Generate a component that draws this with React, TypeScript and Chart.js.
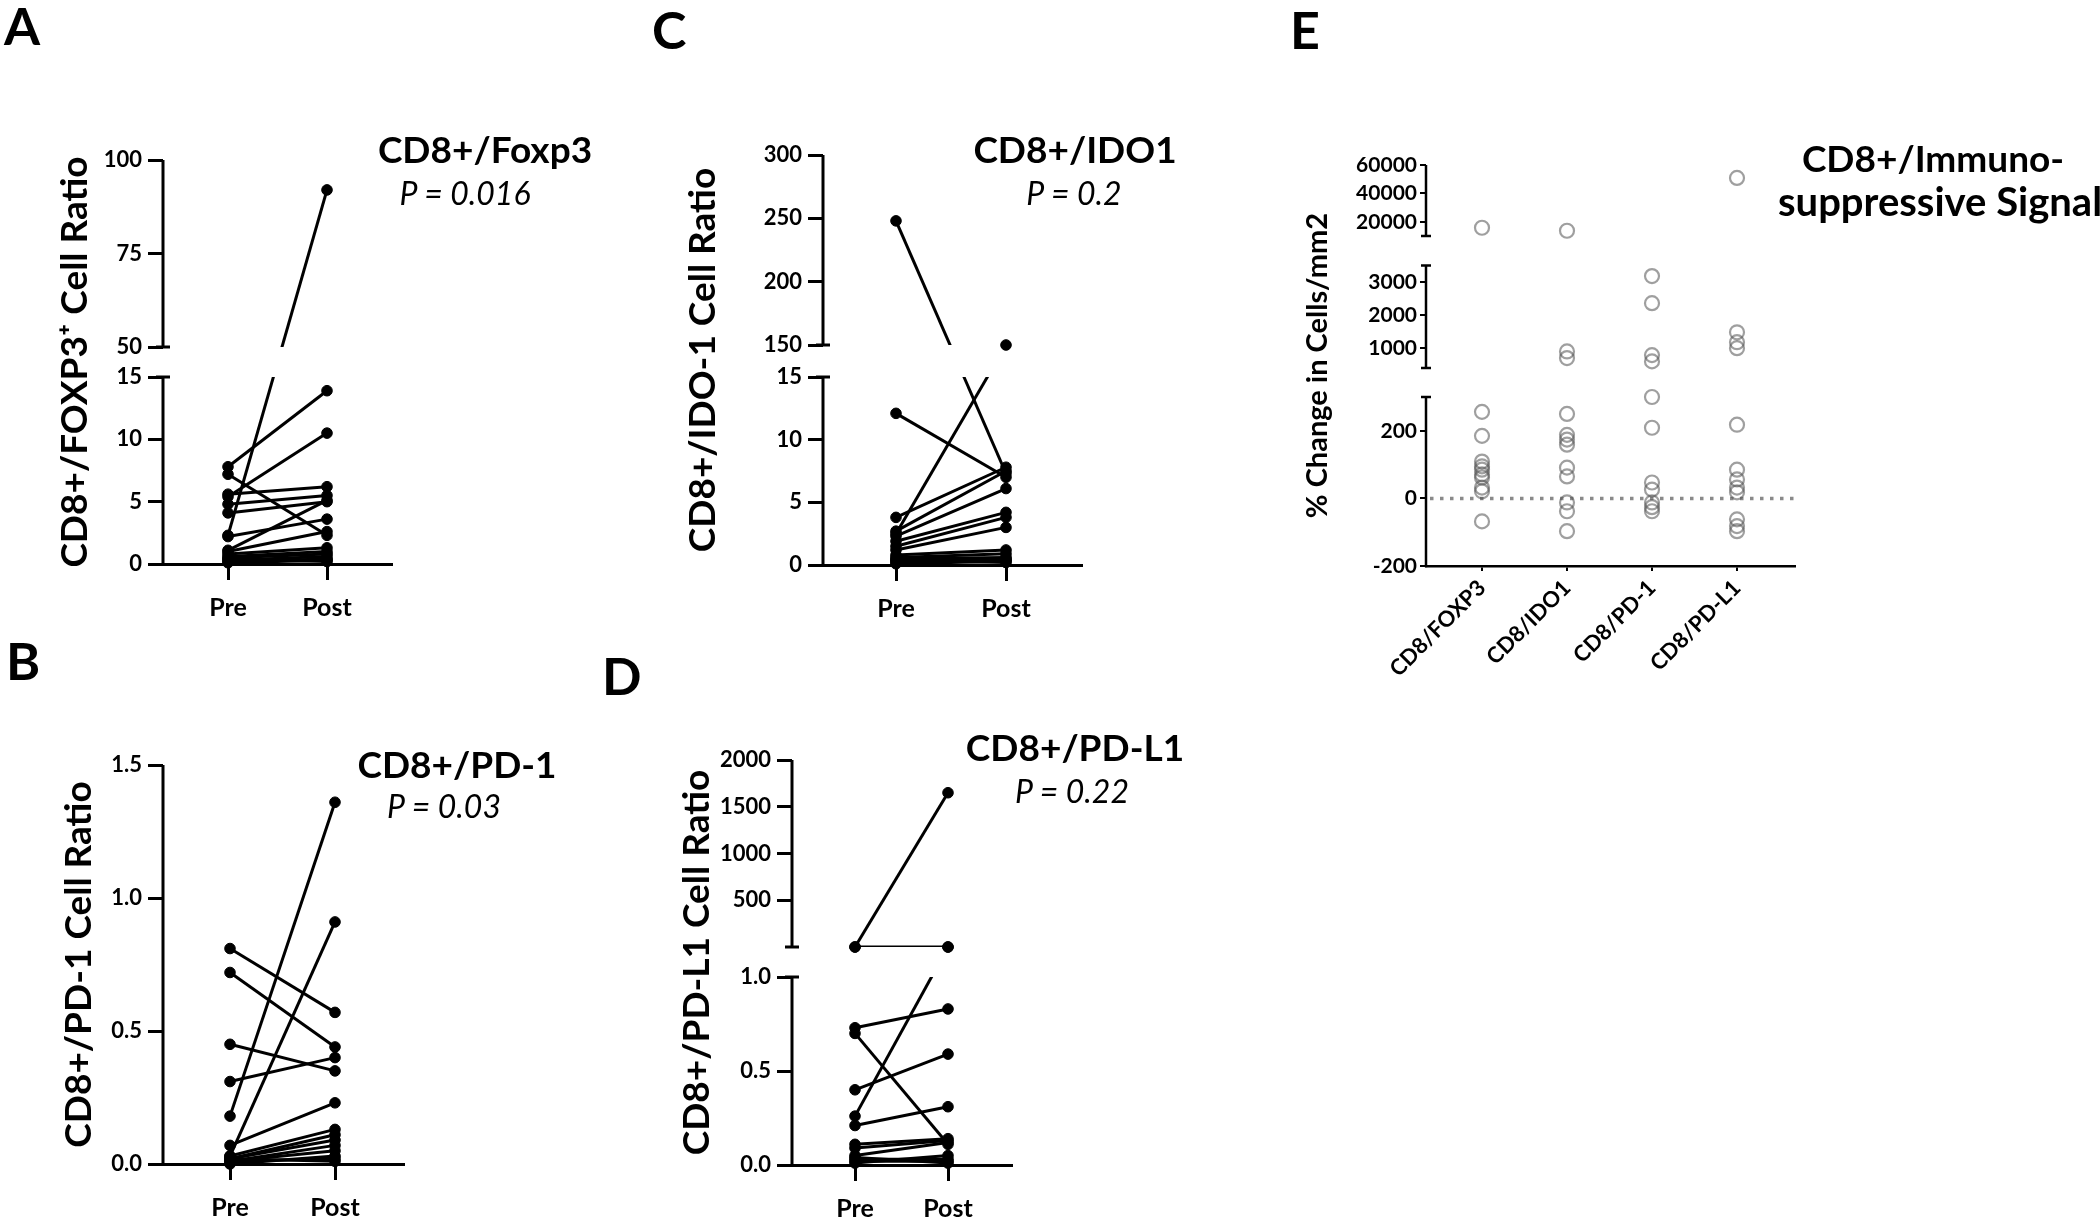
import React, { useEffect, useRef } from 'react';
import { Chart, registerables, LinearScale } from 'chart.js';

Chart.register(...registerables);

const W = 2100;
const H = 1217;
const CH = H + 100; // canvas height (bottom part is hidden by the page frame)
const FONT = 'Lato, "Open Sans", "DejaVu Sans", sans-serif';
const Y_TITLE_SIZE = 37;

// ---------------- data ----------------
const timeLabels = ['Pre', 'Post'];

// A: CD8+/FOXP3+
const foxp3Pre = [2.3, 7.8, 7.2, 5.4, 5.6, 4.8, 4.1, 2.2, 1.1, 1.0, 0.8, 0.6, 0.5, 0.3, 0.2, 0.4, 0.1];
const foxp3Post = [92, 13.9, 2.3, 10.5, 6.2, 5.5, 5.0, 3.6, 5.1, 2.6, 1.3, 1.0, 0.8, 0.6, 0.4, 0.2, 0.3];
const foxp3Ticks = [0, 5, 10, 15, 50, 75, 100];

// B: CD8+/PD-1
const pd1Pre = [0.81, 0.72, 0.45, 0.31, 0.18, 0.07, 0.03, 0.03, 0.02, 0.02, 0.01, 0.01, 0.0, 0.01, 0.02];
const pd1Post = [0.57, 0.44, 0.35, 0.4, 1.36, 0.23, 0.91, 0.13, 0.11, 0.09, 0.07, 0.05, 0.03, 0.02, 0.01];
const pd1Ticks = [0, 0.5, 1, 1.5];

// C: CD8+/IDO1
const ido1Pre = [248, 12.1, 2.5, 3.8, 2.7, 2.3, 1.9, 1.5, 1.2, 0.8, 0.6, 0.5, 0.3, 0.2, 0.4, 0.1];
const ido1Post = [7.3, 7.0, 150, 7.8, 7.5, 6.1, 4.2, 3.8, 3.0, 1.2, 0.9, 0.6, 0.5, 0.4, 0.2, 0.3];
const ido1Ticks = [0, 5, 10, 15, 150, 200, 250, 300];

// D: CD8+/PD-L1
const pdl1Pre = [1.3, 1.2, 0.26, 0.73, 0.7, 0.4, 0.21, 0.11, 0.09, 0.05, 0.03, 0.02, 0.04, 0.01];
const pdl1Post = [1650, 1.1, 1.05, 0.83, 0.11, 0.59, 0.31, 0.14, 0.13, 0.12, 0.03, 0.02, 0.01, 0.05];
const pdl1Ticks = [0, 0.5, 1, 500, 1000, 1500, 2000];

// E: % change
const changeCategories = ['CD8/FOXP3', 'CD8/IDO1', 'CD8/PD-1', 'CD8/PD-L1'];
const changeFoxp3 = [15800, 256, 185, 109, 95, 85, 71, 62, 32, 21, -68];
const changeIdo1 = [13700, 900, 700, 250, 188, 174, 159, 91, 65, -12, -38, -97];
const changePd1 = [3180, 2360, 790, 600, 300, 209, 47, 26, -12, -26, -38];
const changePdl1 = [50900, 1480, 1180, 1000, 218, 85, 56, 32, 18, -62, -82, -97];
const changeTicks = [-200, 0, 200, 1000, 2000, 3000, 20000, 40000, 60000];

// ---------------- broken axis scale ----------------
type Seg = { min: number; max: number; from: number; to: number };
type Meta = { segs: Seg[]; axisWidth: number; capHalf: number; zeroLine?: boolean };
const metaMap = new WeakMap<HTMLCanvasElement, Meta>();

function toDecimal(segs: Seg[], v: number): number {
  for (let i = 0; i < segs.length; i++) {
    const g = segs[i];
    const last = i === segs.length - 1;
    if (v <= g.max || last) {
      if (i > 0 && v < g.min) {
        const p = segs[i - 1];
        const t = (v - p.max) / (g.min - p.max);
        return p.to + t * (g.from - p.to);
      }
      return g.from + ((v - g.min) / (g.max - g.min)) * (g.to - g.from);
    }
  }
  return 0;
}

function fromDecimal(segs: Seg[], d: number): number {
  for (let i = 0; i < segs.length; i++) {
    const g = segs[i];
    const last = i === segs.length - 1;
    if (d <= g.to || last) {
      if (i > 0 && d < g.from) {
        const p = segs[i - 1];
        const t = (d - p.to) / (g.from - p.to);
        return p.max + t * (g.min - p.max);
      }
      return g.min + ((d - g.from) / (g.to - g.from)) * (g.max - g.min);
    }
  }
  return 0;
}

class BrokenScale extends LinearScale {
  static id = 'broken';
  static defaults = LinearScale.defaults;

  segList(): Seg[] {
    const m = metaMap.get((this as any).chart.canvas);
    if (m && m.segs.length) return m.segs;
    return [{ min: (this as any).min, max: (this as any).max, from: 0, to: 1 }];
  }

  getPixelForValue(value: any) {
    if (value === null || value === undefined || !Number.isFinite(+value)) return NaN;
    return (this as any).getPixelForDecimal(toDecimal(this.segList(), +value));
  }

  getValueForPixel(pixel: number) {
    return fromDecimal(this.segList(), (this as any).getDecimalForPixel(pixel));
  }
}
Chart.register(BrokenScale as any);

const brokenAxisPlugin = {
  id: 'brokenAxis',
  beforeDatasetsDraw(chart: any) {
    const m = metaMap.get(chart.canvas);
    if (!m) return;
    const y = chart.scales.y;
    const { ctx, chartArea: a } = chart;
    ctx.save();
    if (m.zeroLine) {
      const y0 = y.getPixelForValue(0);
      ctx.strokeStyle = '#8a8a8a';
      ctx.lineWidth = 3.5;
      ctx.setLineDash([3.5, 6.5]);
      ctx.beginPath();
      ctx.moveTo(a.left + 4, y0);
      ctx.lineTo(a.right, y0);
      ctx.stroke();
      ctx.setLineDash([]);
    }
    ctx.strokeStyle = '#000';
    ctx.lineWidth = m.axisWidth;
    ctx.lineCap = 'butt';
    const x = a.left;
    const n = m.segs.length;
    m.segs.forEach((g, i) => {
      const yb = y.getPixelForDecimal(g.from);
      const yt = y.getPixelForDecimal(g.to);
      ctx.beginPath();
      ctx.moveTo(x, i === 0 ? yb + m.axisWidth / 2 : yb);
      ctx.lineTo(x, yt);
      ctx.stroke();
      const cap = (py: number) => {
        ctx.beginPath();
        ctx.moveTo(x - m.capHalf, py);
        ctx.lineTo(x + m.capHalf, py);
        ctx.stroke();
      };
      if (i > 0) cap(yb);
      if (i < n - 1) cap(yt);
    });
    ctx.restore();
  },
  beforeDatasetDraw(chart: any, args: any) {
    const m = metaMap.get(chart.canvas);
    if (!m || chart.data.datasets[args.index].label !== 'lines') return;
    const y = chart.scales.y;
    const ctx = chart.ctx;
    ctx.save();
    ctx.beginPath();
    const n = m.segs.length;
    m.segs.forEach((g, i) => {
      const top = i === n - 1 ? 0 : y.getPixelForDecimal(g.to);
      const bottom = i === 0 ? chart.height : y.getPixelForDecimal(g.from);
      ctx.rect(0, top, chart.width, bottom - top);
    });
    ctx.clip();
  },
  afterDatasetDraw(chart: any, args: any) {
    const m = metaMap.get(chart.canvas);
    if (!m || chart.data.datasets[args.index].label !== 'lines') return;
    chart.ctx.restore();
  },
};

// ---------------- panel specs ----------------
type Area = { left: number; top: number; right: number; bottom: number };
type PairSpec = {
  pre: number[];
  post: number[];
  ticks: number[];
  fmt: (v: number) => string;
  yTitle: string;
  titleX: number;
  area: Area;
  preX: number;
  postX: number;
  segs: Seg[];
};

const panelA: PairSpec = {
  pre: foxp3Pre, post: foxp3Post, ticks: foxp3Ticks, fmt: (v) => String(v),
  yTitle: 'CD8+/FOXP3\u207A Cell Ratio', titleX: 75,
  area: { left: 163, top: 160, right: 391, bottom: 564 }, preX: 228, postX: 327,
  segs: [{ min: 0, max: 15, from: 0, to: 187 }, { min: 50, max: 100, from: 217, to: 404 }],
};
const panelB: PairSpec = {
  pre: pd1Pre, post: pd1Post, ticks: pd1Ticks, fmt: (v) => v.toFixed(1),
  yTitle: 'CD8+/PD-1 Cell Ratio', titleX: 79,
  area: { left: 163, top: 765, right: 403, bottom: 1164 }, preX: 230, postX: 335,
  segs: [{ min: 0, max: 1.5, from: 0, to: 399 }],
};
const panelC: PairSpec = {
  pre: ido1Pre, post: ido1Post, ticks: ido1Ticks, fmt: (v) => String(v),
  yTitle: 'CD8+/IDO-1 Cell Ratio', titleX: 703,
  area: { left: 823, top: 155, right: 1081, bottom: 565 }, preX: 896, postX: 1006,
  segs: [{ min: 0, max: 15, from: 0, to: 188 }, { min: 150, max: 300, from: 220, to: 410 }],
};
const panelD: PairSpec = {
  pre: pdl1Pre, post: pdl1Post, ticks: pdl1Ticks, fmt: (v) => (v <= 1 ? v.toFixed(1) : String(v)),
  yTitle: 'CD8+/PD-L1 Cell Ratio', titleX: 697,
  area: { left: 792, top: 760, right: 1011, bottom: 1165 }, preX: 855, postX: 948,
  segs: [{ min: 0, max: 1, from: 0, to: 188 }, { min: 1, max: 2000, from: 218, to: 405 }],
};

const X_BOX = 80;

function buildPaired(canvas: HTMLCanvasElement, s: PairSpec): any {
  const h = s.area.bottom - s.area.top;
  metaMap.set(canvas, {
    segs: s.segs.map((g) => ({ ...g, from: g.from / h, to: g.to / h })),
    axisWidth: 3,
    capHalf: 7,
  });
  const span = s.postX - s.preX;
  const padLeft = s.titleX - (Y_TITLE_SIZE * 1.2) / 2;
  const datasets: any[] = [
    {
      label: 'points',
      data: [...s.pre.map((v) => ({ x: 0, y: v })), ...s.post.map((v) => ({ x: 1, y: v }))],
      pointRadius: 5.3,
      pointBackgroundColor: '#000',
      pointBorderColor: '#000',
      pointBorderWidth: 1,
      clip: false,
    },
    ...s.pre.map((v, i) => ({
      label: 'lines',
      data: [{ x: 0, y: v }, { x: 1, y: s.post[i] }],
      showLine: true,
      borderColor: '#000',
      borderWidth: 3,
      pointRadius: 0,
      clip: false,
    })),
  ];
  return {
    type: 'scatter',
    data: { datasets },
    options: {
      responsive: false,
      animation: false,
      events: [],
      plugins: { legend: { display: false }, tooltip: { enabled: false } },
      layout: {
        autoPadding: false,
        padding: { left: padLeft, top: s.area.top, right: W - s.area.right, bottom: CH - s.area.bottom - X_BOX },
      },
      scales: {
        x: {
          type: 'linear',
          min: -(s.preX - s.area.left) / span,
          max: 1 + (s.area.right - s.postX) / span,
          afterBuildTicks: (sc: any) => { sc.ticks = [{ value: 0 }, { value: 1 }]; },
          afterFit: (sc: any) => { sc.height = X_BOX; },
          ticks: {
            callback: (_v: any, i: number) => timeLabels[i],
            font: { family: FONT, size: 25, weight: 'bold' },
            color: '#000', padding: 13, autoSkip: false, maxRotation: 0, minRotation: 0,
          },
          grid: { drawOnChartArea: false, drawTicks: true, tickLength: 16, lineWidth: 3, color: '#000' },
          border: { display: true, width: 3, color: '#000' },
        },
        y: {
          type: 'broken',
          min: s.segs[0].min,
          max: s.segs[s.segs.length - 1].max,
          afterBuildTicks: (sc: any) => { sc.ticks = s.ticks.map((v) => ({ value: v })); },
          afterFit: (sc: any) => { sc.width = s.area.left - padLeft; },
          ticks: {
            callback: (v: any) => s.fmt(+v),
            font: { family: FONT, size: 22, weight: 'bold' },
            color: '#000', padding: 6, autoSkip: false,
          },
          grid: { drawOnChartArea: false, drawTicks: true, tickLength: 15, lineWidth: 3, color: '#000' },
          border: { display: false },
          title: {
            display: true, text: s.yTitle, color: '#000', padding: 0,
            font: { family: FONT, size: Y_TITLE_SIZE, weight: 'bold' },
          },
        },
      },
    },
    plugins: [brokenAxisPlugin],
  };
}

const panelE = {
  area: { left: 1426, top: 165, right: 1795, bottom: 566 },
  firstX: 1482,
  stepX: 85,
  titleX: 1318,
  titleSize: 29,
  segs: [
    { min: -200, max: 300, from: 0, to: 169 },
    { min: 400, max: 3500, from: 198, to: 300.5 },
    { min: 10000, max: 60000, from: 330, to: 401 },
  ] as Seg[],
};

function buildChange(canvas: HTMLCanvasElement): any {
  const s = panelE;
  const h = s.area.bottom - s.area.top;
  metaMap.set(canvas, {
    segs: s.segs.map((g) => ({ ...g, from: g.from / h, to: g.to / h })),
    axisWidth: 2.5,
    capHalf: 5,
    zeroLine: true,
  });
  const padLeft = s.titleX - (s.titleSize * 1.2) / 2;
  const series = [changeFoxp3, changeIdo1, changePd1, changePdl1];
  const datasets = series.map((arr, i) => ({
    label: changeCategories[i],
    data: arr.map((v) => ({ x: i, y: v })),
    pointRadius: 7,
    pointBorderWidth: 2.2,
    pointBorderColor: 'rgba(80,80,80,0.55)',
    pointBackgroundColor: 'rgba(0,0,0,0)',
    clip: false,
  }));
  const nCat = changeCategories.length;
  return {
    type: 'scatter',
    data: { datasets },
    options: {
      responsive: false,
      animation: false,
      events: [],
      plugins: { legend: { display: false }, tooltip: { enabled: false } },
      layout: {
        autoPadding: false,
        padding: { left: padLeft, top: s.area.top, right: W - s.area.right, bottom: CH - s.area.bottom - 200 },
      },
      scales: {
        x: {
          type: 'linear',
          min: -(s.firstX - s.area.left) / s.stepX,
          max: nCat - 1 + (s.area.right - (s.firstX + (nCat - 1) * s.stepX)) / s.stepX,
          afterBuildTicks: (sc: any) => { sc.ticks = changeCategories.map((_c, i) => ({ value: i })); },
          afterFit: (sc: any) => { sc.height = 200; },
          ticks: {
            callback: (_v: any, i: number) => changeCategories[i],
            font: { family: FONT, size: 22, weight: 'bold' },
            color: '#000', padding: 4, autoSkip: false, maxRotation: 45, minRotation: 45,
          },
          grid: { drawOnChartArea: false, drawTicks: true, tickLength: 5, lineWidth: 2, color: '#000' },
          border: { display: true, width: 2.5, color: '#000' },
        },
        y: {
          type: 'broken',
          min: s.segs[0].min,
          max: s.segs[s.segs.length - 1].max,
          afterBuildTicks: (sc: any) => { sc.ticks = changeTicks.map((v) => ({ value: v })); },
          afterFit: (sc: any) => { sc.width = s.area.left - padLeft; },
          ticks: {
            callback: (v: any) => String(v),
            font: { family: FONT, size: 21, weight: 'bold' },
            color: '#000', padding: 3, autoSkip: false,
          },
          grid: { drawOnChartArea: false, drawTicks: true, tickLength: 6, lineWidth: 2, color: '#000' },
          border: { display: false },
          title: {
            display: true, text: '% Change in Cells/mm2', color: '#000', padding: 0,
            font: { family: FONT, size: s.titleSize, weight: 'bold' },
          },
        },
      },
    },
    plugins: [brokenAxisPlugin],
  };
}

// ---------------- components ----------------
function ChartLayer({ build }: { build: (c: HTMLCanvasElement) => any }) {
  const ref = useRef<HTMLCanvasElement>(null);
  useEffect(() => {
    const c = ref.current;
    if (!c) return;
    const chart = new Chart(c, build(c));
    return () => chart.destroy();
  }, []);
  return (
    <canvas
      ref={ref}
      width={W}
      height={CH}
      style={{ position: 'absolute', left: 0, top: 0, width: W, height: CH }}
    />
  );
}

type TextProps = {
  text: string; x: number; capTop: number; size: number;
  bold?: boolean; italic?: boolean; center?: boolean;
};
function Txt({ text, x, capTop, size, bold = true, italic = false, center = true }: TextProps) {
  return (
    <div
      style={{
        position: 'absolute',
        left: x,
        top: capTop - 0.17 * size,
        transform: center ? 'translateX(-50%)' : undefined,
        fontFamily: FONT,
        fontSize: size,
        fontWeight: bold ? 700 : 400,
        fontStyle: italic ? 'italic' : 'normal',
        lineHeight: 1,
        whiteSpace: 'nowrap',
        color: '#000',
      }}
    >
      {text}
    </div>
  );
}

export default function App() {
  return (
    <div
      style={{
        position: 'absolute', left: 0, top: 0, width: W, height: H,
        background: '#fff', overflow: 'hidden',
      }}
    >
      <ChartLayer build={(c) => buildPaired(c, panelA)} />
      <ChartLayer build={(c) => buildPaired(c, panelB)} />
      <ChartLayer build={(c) => buildPaired(c, panelC)} />
      <ChartLayer build={(c) => buildPaired(c, panelD)} />
      <ChartLayer build={(c) => buildChange(c)} />

      <Txt text="A" x={4} capTop={8} size={52} center={false} />
      <Txt text="B" x={6} capTop={643} size={52} center={false} />
      <Txt text="C" x={652} capTop={12} size={52} center={false} />
      <Txt text="D" x={602} capTop={658} size={52} center={false} />
      <Txt text="E" x={1290} capTop={12} size={52} center={false} />

      <Txt text="CD8+/Foxp3" x={485} capTop={136} size={37} />
      <Txt text="P = 0.016" x={465} capTop={182} size={32} bold={false} italic />
      <Txt text="CD8+/IDO1" x={1075} capTop={136} size={37} />
      <Txt text="P = 0.2" x={1074} capTop={182} size={32} bold={false} italic />
      <Txt text="CD8+/PD-1" x={457} capTop={751} size={37} />
      <Txt text="P = 0.03" x={444} capTop={795} size={32} bold={false} italic />
      <Txt text="CD8+/PD-L1" x={1075} capTop={734} size={37} />
      <Txt text="P = 0.22" x={1072} capTop={780} size={32} bold={false} italic />
      <Txt text="CD8+/Immuno-" x={1933} capTop={145} size={37} />
      <Txt text="suppressive Signal" x={1778} capTop={188} size={40} center={false} />
    </div>
  );
}
